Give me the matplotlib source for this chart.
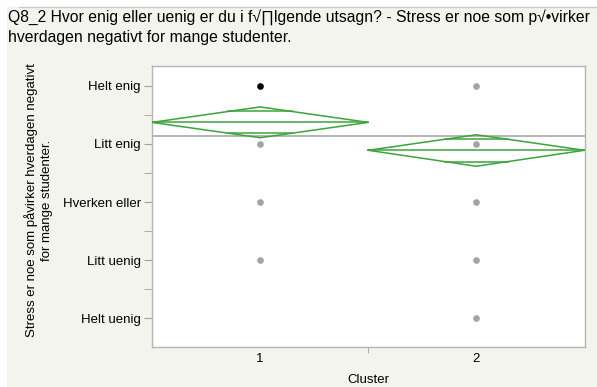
" one-way means diamonds by cluster "
import matplotlib
matplotlib.use("Agg")
import matplotlib.pyplot as plt
import numpy as np
from matplotlib.patches import Rectangle
from matplotlib.lines import Line2D

plt.rcParams.update({'font.family': ['Liberation Sans', 'DejaVu Sans'],
                     'font.size': 9.5})

# response scale, 1 = Helt uenig ... 5 = Helt enig
levels = [1, 2, 3, 4, 5]
level_labels = ["Helt uenig", "Litt uenig", "Hverken eller", "Litt enig", "Helt enig"]

clusters = [1, 2]
# distinct responses shown per cluster
resp_c1 = [5, 4, 3, 2]
resp_c2 = [5, 4, 3, 2, 1]
selected = (1, 5)  # highlighted point

means = [4.37, 3.89]
ci_low = [4.106, 3.615]
ci_high = [4.636, 4.157]
grand_mean = 4.13

title_lines = ["Q8_2 Hvor enig eller uenig er du i f\u221a\u220flgende utsagn? - Stress er noe som p\u221a\u2022virker",
               "hverdagen negativt for mange studenter."]
ylab = "Stress er noe som påvirker hverdagen negativt\nfor mange studenter."

W, H = 597, 387
fig = plt.figure(figsize=(W / 100, H / 100), dpi=100)
fig.patch.set_facecolor("white")
# panel background and top rule
fig.patches.append(Rectangle((7 / W, 0), 1, 1 - 7 / H, transform=fig.transFigure,
                             facecolor="#f4f4ef", edgecolor="none", zorder=-10))
fig.lines.append(Line2D([19 / W, 1], [1 - 7 / H, 1 - 7 / H], transform=fig.transFigure,
                        color="#c8c8c8", lw=1))

ax = fig.add_axes([152 / W, (H - 347.3) / H, (584.5 - 152) / W, (347.3 - 66) / H])
ax.set_facecolor("white")
ax.set_xlim(0.5, 2.5)
ax.set_ylim(0.5, 5.34)

green = "#3aa53a"
for i, c in enumerate(clusters):
    m, lo, hi = means[i], ci_low[i], ci_high[i]
    half = 0.5
    # means diamond
    ax.plot([c - half, c, c + half, c, c - half], [m, hi, m, lo, m], color=green, lw=1.1, zorder=3)
    ax.plot([c - half, c + half], [m, m], color=green, lw=1.1, zorder=3)
    # overlap marks
    k = np.sqrt(2) / 2
    w = half * (1 - k)
    for y in (m + (hi - m) * k, m - (m - lo) * k):
        ax.plot([c - w, c + w], [y, y], color=green, lw=1.1, zorder=3)

ax.axhline(grand_mean, color="#a8a8a8", lw=1.2, zorder=2)

for c, resp in zip(clusters, [resp_c1, resp_c2]):
    for r in resp:
        col = "black" if (c, r) == selected else "#a3a3a3"
        ax.plot(c, r, "o", color=col, ms=4.8, mec="none", zorder=4)

ax.set_yticks(levels)
ax.set_yticklabels(level_labels)
ax.set_yticks([1.5, 2.5, 3.5, 4.5], minor=True)
ax.set_xticks(clusters)
ax.set_xticklabels([str(c) for c in clusters])
ax.set_xticks([1.5], minor=True)
ax.tick_params(axis="y", which="both", length=6, color="#a0a0a0", pad=2)
ax.tick_params(axis="x", which="major", length=0, pad=4)
ax.tick_params(axis="x", which="minor", length=4, color="#a0a0a0")
for s in ax.spines.values():
    s.set_color("#b4b4b4")
    s.set_linewidth(1)

for j, line in enumerate(title_lines):
    fig.text(8 / W, 1 - (22 + 20 * j) / H, line, ha="left", va="baseline", fontsize=11.3)
fig.text(38.5 / W, 1 - 200 / H, ylab, rotation=90, ha="center", va="center",
         multialignment="center", linespacing=1.4)
fig.text(368 / W, 1 - 380 / H, "Cluster", ha="center", va="center")

fig.savefig("out.png", dpi=100)
